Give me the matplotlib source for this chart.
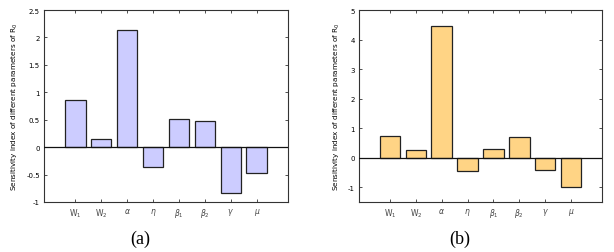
import matplotlib
matplotlib.use("Agg")
import matplotlib.pyplot as plt
import numpy as np

params = [r'$\mathrm{W}_1$', r'$\mathrm{W}_2$', r'$\alpha$', r'$\eta$',
          r'$\beta_1$', r'$\beta_2$', r'$\gamma$', r'$\mu$']
values_a = [0.86, 0.14, 2.14, -0.36, 0.52, 0.47, -0.84, -0.47]
values_b = [0.74, 0.26, 4.47, -0.45, 0.28, 0.71, -0.41, -0.98]
yticks_a = [-1, -0.5, 0, 0.5, 1, 1.5, 2, 2.5]
yticklabels_a = ['-1', '-0.5', '0', '0.5', '1', '1.5', '2', '2.5']
yticks_b = [-1, 0, 1, 2, 3, 4, 5]
yticklabels_b = ['-1', '0', '1', '2', '3', '4', '5']
ylabel = r'Sensitivity index of different parameters of R$_0$'

W, H = 614, 253
fig = plt.figure(figsize=(W/100, H/100), dpi=100)

def panel(rect, vals, color, ylim, yticks, yticklabels, caption, cap_x, ylab_x):
    l, r, t, b = rect
    ax = fig.add_axes([l/W, 1-b/H, (r-l)/W, (b-t)/H])
    x = np.arange(len(vals))
    ax.bar(x, vals, width=0.8, color=color, edgecolor='#222222', linewidth=0.9, zorder=2)
    ax.axhline(0, color='#111111', linewidth=0.9, zorder=3)
    ax.set_xlim(-1.2, len(vals) - 1 + 1.2)
    ax.set_ylim(*ylim)
    ax.set_xticks(x)
    ax.set_xticklabels(params, fontsize=5.5, color='#444444')
    ax.set_yticks(yticks)
    ax.set_yticklabels(yticklabels, fontsize=5)
    ax.tick_params(direction='in', length=2.5, width=0.6, top=True, right=True,
                   pad=3, color='#333333')
    for s in ax.spines.values():
        s.set_linewidth(0.8)
        s.set_color('#333333')
    fig.text(ylab_x/W, 1-((t+b)/2)/H, ylabel, rotation=90, fontsize=5.2,
             ha='center', va='center')
    fig.text(cap_x/W, 1-239/H, caption, fontsize=13, family='Liberation Serif',
             ha='center', va='center')
    return ax

panel((44, 288, 11, 203), values_a, '#ccccff', (-1, 2.5), yticks_a, yticklabels_a,
      '(a)', 140, 15)
panel((359, 602, 11, 203), values_b, '#ffd485', (-1.5, 5), yticks_b, yticklabels_b,
      '(b)', 460, 337)

fig.savefig('out.png', dpi=100)
